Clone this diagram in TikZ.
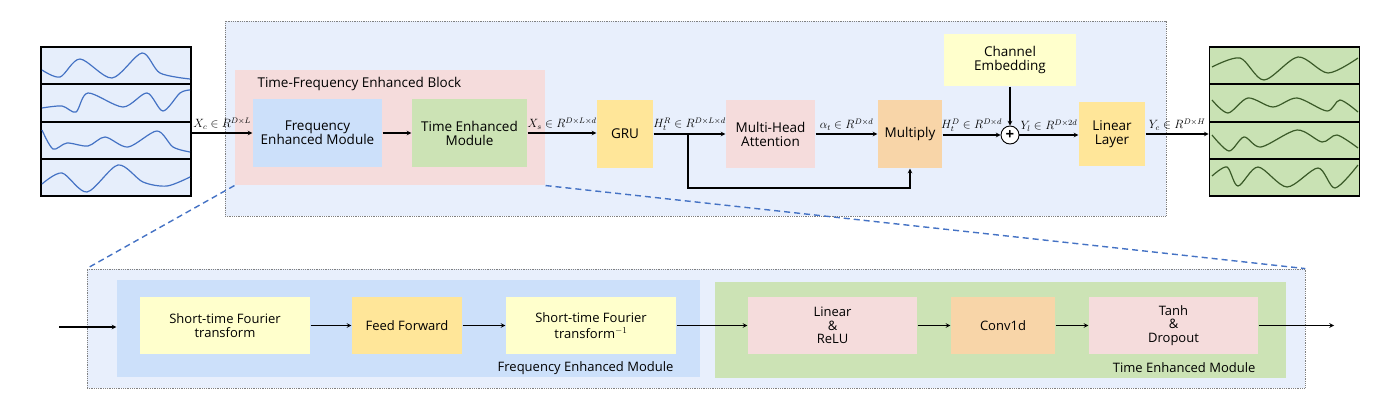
\documentclass[tikz,border=0pt]{standalone}
\usepackage{fontspec}
\setmainfont{Open Sans}
\usetikzlibrary{positioning}
\definecolor{bgblue}{RGB}{232,239,252}
\definecolor{tfpink}{RGB}{245,220,220}
\definecolor{femblue}{RGB}{204,224,250}
\definecolor{temgreen}{RGB}{204,227,181}
\definecolor{gruyel}{RGB}{255,230,153}
\definecolor{mulorange}{RGB}{248,213,168}
\definecolor{paleyel}{RGB}{255,255,204}
\definecolor{inbg}{RGB}{230,238,251}
\definecolor{inwave}{RGB}{68,114,196}
\definecolor{outbg}{RGB}{201,226,180}
\definecolor{outwave}{RGB}{58,90,40}

\begin{document}
\begin{tikzpicture}
[x=1pt,y=-1pt,line width=1.1pt,>=stealth,%
  every node/.style={inner sep=1pt,font=\fontsize{13.5}{15}\selectfont},%
  area/.style={rectangle,draw=gray,densely dotted,line width=0.8pt,fill=bgblue},%
  blk/.style={rectangle,minimum height=68pt,align=center},%
  sub/.style={rectangle,minimum height=57pt,align=center,font=\fontsize{13}{14.5}\selectfont},%
  lbl/.style={midway,above=2pt,font=\fontsize{11.5}{12}\selectfont},%
  panel/.style={rectangle,draw,line width=1.6pt,minimum width=150pt,minimum height=149pt},%
  wave/.style={line width=1.2pt},%
  zoomline/.style={draw=inwave,dash pattern=on 6pt off 4pt,line width=1.4pt}]
\useasboundingbox (0,0) rectangle (1383,407);

\node[area,minimum width=941pt,minimum height=195pt] (top) at (695.5,118.5) {};
\node[rectangle,fill=tfpink,minimum width=310pt,minimum height=115pt] (tfb) at (390,127.5) {};
\node[anchor=west] at (256,84) {Time-Frequency Enhanced Block};

\node[blk,fill=femblue,minimum width=129pt] (fem) at (317.5,133) {Frequency\\[-1pt]Enhanced Module};
\node[blk,fill=temgreen,minimum width=115pt] (tem) at (469.5,133) {Time Enhanced\\[-1pt]Module};
\node[blk,fill=gruyel,minimum width=56pt] (gru) at (625,134) {GRU};
\node[blk,fill=tfpink,minimum width=89pt] (mha) at (770.5,134) {Multi-Head\\[-1pt]Attention};
\node[blk,fill=mulorange,minimum width=64pt] (mul) at (910,134) {Multiply};
\node[rectangle,fill=paleyel,minimum width=132pt,minimum height=52pt,align=center] (ce) at (1010,60) {Channel\\[-1pt]Embedding};
\node[circle,draw,fill=white,line width=0.9pt,minimum size=18pt,inner sep=0pt,font=\fontsize{15}{15}\selectfont\bfseries] (add) at (1010,135) {+};
\node[blk,fill=gruyel,minimum width=66pt,minimum height=64pt] (lin) at (1112,134) {Linear\\[-1pt]Layer};

\node[panel,fill=inbg] (inp) at (116,121.5) {};
\node[panel,fill=outbg] (outp) at (1284.5,121.5) {};
\foreach \y in {84,122,159} {
  \draw[line width=1.4pt] (41,\y) -- (191,\y);
  \draw[line width=1.4pt] (1209,\y) -- (1360,\y);
}
\draw[wave,inwave] plot[smooth] coordinates {(42,70) (60,77) (80,59) (112,78) (142,53) (160,73) (190,79)};
\draw[wave,inwave] plot[smooth] coordinates {(42,108) (62,106) (76,112) (88,93) (123,107) (147,93) (163,111) (180,93) (190,90)};
\draw[wave,inwave] plot[smooth] coordinates {(42,130) (53,149) (67,143) (88,146) (105,137) (128,147) (157,131) (173,147) (190,152)};
\draw[wave,inwave] plot[smooth] coordinates {(42,184) (62,173) (87,192) (118,165) (143,182) (167,186) (190,177)};
\draw[wave,outwave] plot[smooth] coordinates {(1212,67) (1240,58) (1264,80) (1298,57) (1328,73) (1358,58)};
\draw[wave,outwave] plot[smooth] coordinates {(1212,100) (1228,113) (1248,98) (1273,107) (1297,98) (1327,111) (1340,100) (1358,112)};
\draw[wave,outwave] plot[smooth] coordinates {(1212,135) (1229,151) (1244,137) (1261,147) (1297,130) (1322,142) (1337,135) (1358,148)};
\draw[wave,outwave] plot[smooth] coordinates {(1212,176) (1227,167) (1238,186) (1258,167) (1287,187) (1318,168) (1335,188) (1358,165)};

\draw[->] (fem.west -| inp.east) -- (fem.west) node[lbl] {$X_c \in R^{D\times L}$};
\draw[->] (fem) -- (tem);
\draw[->] (tem) -- (tem.east -| gru.west) node[lbl] {$X_s \in R^{D\times L\times d}$};
\draw[->] (gru) -- (mha) node[lbl] {$H_t^R \in R^{D\times L\times d}$};
\coordinate (br) at (688,134);
\draw[->] (br) -- ++(0,54) -| (mul.south);
\draw[->] (mha) -- (mul) node[lbl] {$\alpha_t \in R^{D\times d}$};
\draw[->] (mul.east |- add) -- (add) node[lbl] {$H_t^D \in R^{D\times d}$};
\draw[->] (ce) -- (add);
\draw[->] (add) -- (add -| lin.west) node[lbl] {$Y_l \in R^{D\times 2d}$};
\draw[->] (lin.east) -- (lin.east -| outp.west) node[lbl] {$Y_c \in R^{D\times H}$};

\node[area,minimum width=1218pt,minimum height=119pt] (bot) at (696,328.5) {};
\draw[zoomline] (tfb.south west) -- (bot.north west);
\draw[zoomline] (tfb.south east) -- (bot.north east);
\node[rectangle,fill=femblue,minimum width=583pt,minimum height=97pt] (fembig) at (408.5,328.5) {};
\node[rectangle,fill=temgreen,minimum width=571pt,minimum height=96pt] (tembig) at (1000.5,330) {};
\node[anchor=east,font=\fontsize{13}{14}\selectfont] at (675,368) {Frequency Enhanced Module};
\node[anchor=east,font=\fontsize{13}{14}\selectfont] at (1257,368) {Time Enhanced Module};

\node[sub,fill=paleyel,minimum width=170pt] (stft) at (225,325.5) {Short-time Fourier\\transform};
\node[sub,fill=gruyel,minimum width=110pt] (ff) at (407,325.5) {Feed Forward};
\node[sub,fill=paleyel,minimum width=170pt] (istft) at (591,325.5) {Short-time Fourier\\[1pt]transform$^{-1}$};
\node[sub,fill=tfpink,minimum width=169pt] (lr) at (832.5,325.5) {Linear\\[-1pt]\&\\[-1pt]ReLU};
\node[sub,fill=mulorange,minimum width=104pt] (conv) at (1003,325.5) {Conv1d};
\node[sub,fill=tfpink,minimum width=169pt] (td) at (1173.5,325.5) {Tanh\\[-1pt]\&\\[-1pt]Dropout};
\coordinate (in) at (59,327);
\coordinate (out) at (1334,325.5);

\draw[->] (in) -- (in -| fembig.west);
\draw[->] (stft) -- (ff);
\draw[->] (ff) -- (istft);
\draw[->] (istft) -- (lr);
\draw[->] (lr) -- (conv);
\draw[->] (conv) -- (td);
\draw[->] (td) -- (out);
\end{tikzpicture}
\end{document}
